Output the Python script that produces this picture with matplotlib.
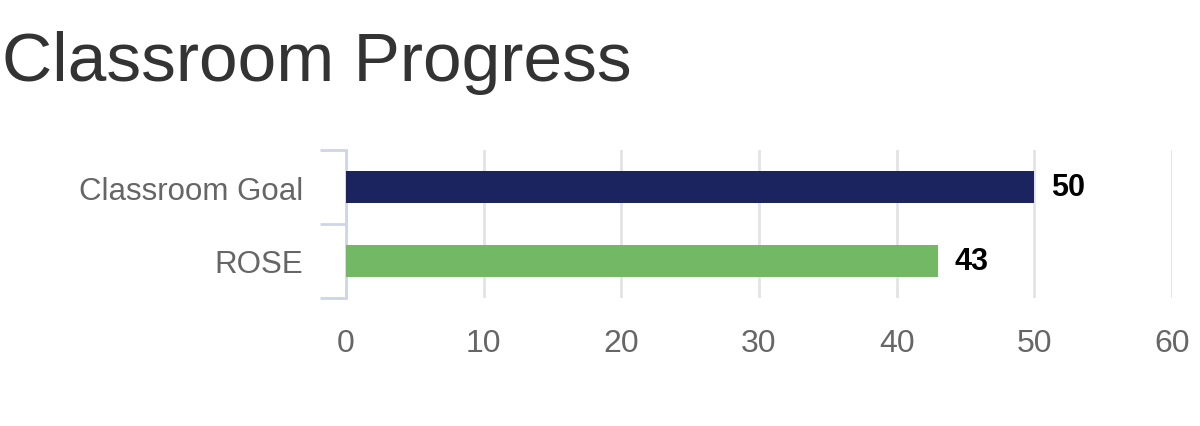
import matplotlib
matplotlib.use("Agg")
import matplotlib.pyplot as plt
from matplotlib.ticker import FixedLocator

categories = ["Classroom Goal", "ROSE"]
values = [50, 43]
colors = ["#1c2460", "#72b865"]
xticks = [0, 10, 20, 30, 40, 50, 60]
title = "Classroom Progress"

plt.rcParams['font.family'] = ['Liberation Sans', 'DejaVu Sans']

fig = plt.figure(figsize=(12, 4.27), dpi=100)
ax = fig.add_axes([0.2883, 0.3000, 0.9767 - 0.2883, 0.6460 - 0.3000])

ypos = list(range(len(categories)))
ax.barh(ypos, values, height=0.44, color=colors, zorder=3)
ax.set_ylim(len(categories) - 0.5, -0.5)
ax.set_xlim(0, 60)

for y, v in zip(ypos, values):
    ax.text(v + 1.2, y, str(v), va='center', ha='left', fontsize=22,
            fontweight='bold', color='black')

ax.set_xticks(xticks)
ax.set_xticklabels([str(t) for t in xticks], fontsize=23, color='#666666')
ax.tick_params(axis='x', length=0, pad=22)
ax.grid(axis='x', color='#e3e3e3', linewidth=2, zorder=0)

ax.set_yticks(ypos)
ax.set_yticklabels(categories, fontsize=22.5, color='#666666')
ax.yaxis.set_minor_locator(FixedLocator([-0.5, 0.5, 1.5]))
ax.tick_params(axis='y', which='major', length=0, pad=31)
ax.tick_params(axis='y', which='minor', length=19, width=2, color='#ccd6e6')

for s in ['top', 'right', 'bottom']:
    ax.spines[s].set_visible(False)
ax.spines['left'].set_color('#ccd6e6')
ax.spines['left'].set_linewidth(2)

fig.text(0.002, 0.810, title, fontsize=50, color='#333333', ha='left', va='baseline')

fig.savefig("out.png", dpi=100)
